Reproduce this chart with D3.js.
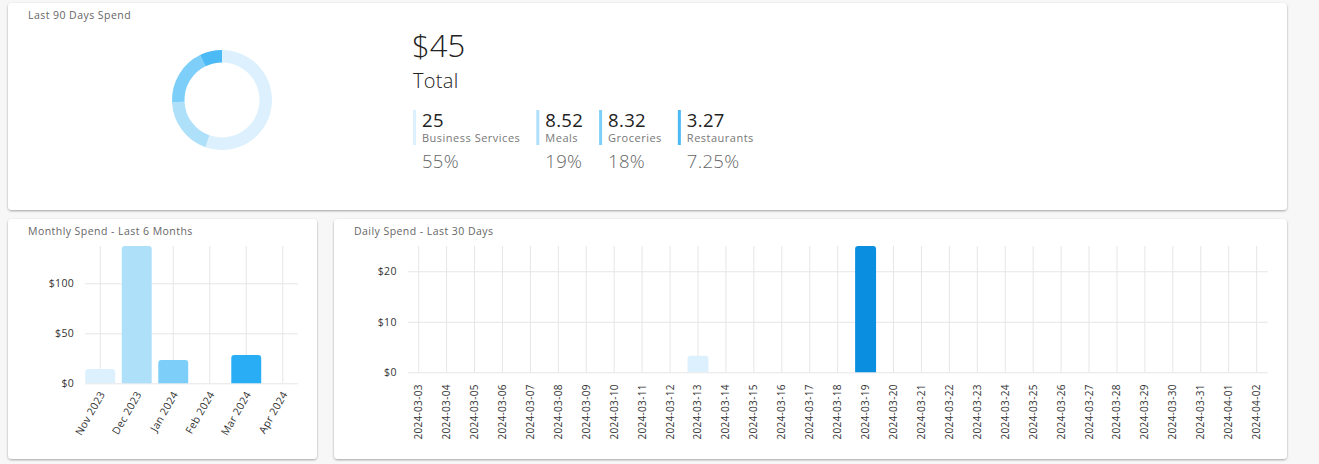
<!DOCTYPE html>
<html lang="en">
<head>
    <meta charset="UTF-8">
    <title>Spend Dashboard</title>
    <script src="https://d3js.org/d3.v7.min.js"></script>
    <style>
        body { margin: 0; background: #f7f7f7; }
        svg { display: block; font-family: "Open Sans", sans-serif; }
        .grid line { stroke: #e6e6e6; }
        .grid path { display: none; }
    </style>
</head>
<body>
    <script>
        // data
        const catLabels = ["Business Services", "Meals", "Groceries", "Restaurants"];
        const catValues = [25, 8.52, 8.32, 3.27];
        const catPercents = ["55%", "19%", "18%", "7.25%"];
        const catColors = ["#dcf1fd", "#aee0fa", "#7dcff9", "#4bbaf5"];
        const totalLabel = "$45";

        const months = ["Nov 2023", "Dec 2023", "Jan 2024", "Feb 2024", "Mar 2024", "Apr 2024"];
        const monthValues = [14.3, 137.3, 23.3, 0, 28.27, 0];
        const monthTicks = [0, 50, 100];
        const monthColors = ["#dcf1fd", "#aee0fa", "#7dcff9", "#4bbaf5", "#29aef5", "#03a0ef"];

        const days = ["2024-03-03", "2024-03-04", "2024-03-05", "2024-03-06", "2024-03-07", "2024-03-08",
            "2024-03-09", "2024-03-10", "2024-03-11", "2024-03-12", "2024-03-13", "2024-03-14",
            "2024-03-15", "2024-03-16", "2024-03-17", "2024-03-18", "2024-03-19", "2024-03-20",
            "2024-03-21", "2024-03-22", "2024-03-23", "2024-03-24", "2024-03-25", "2024-03-26",
            "2024-03-27", "2024-03-28", "2024-03-29", "2024-03-30", "2024-03-31", "2024-04-01",
            "2024-04-02"];
        const dayValues = [0, 0, 0, 0, 0, 0, 0, 0, 0, 0, 3.27, 0, 0, 0, 0, 0, 25, 0,
            0, 0, 0, 0, 0, 0, 0, 0, 0, 0, 0, 0, 0];
        const dayTicks = [0, 10, 20];
        const dayColors = ["#dcf1fd", "#aee0fa", "#7dcff9", "#4bbaf5", "#29aef5", "#03a0ef",
            "#0a8fe0", "#0288d1", "#0277bd", "#01579b"];

        const svg = d3.select("body").append("svg")
            .attr("width", 1319)
            .attr("height", 464);

        // card shadow
        const f = svg.append("defs").append("filter").attr("id", "shadow")
            .attr("x", "-5%").attr("y", "-5%").attr("width", "110%").attr("height", "115%");
        f.append("feDropShadow").attr("dx", 0).attr("dy", 1).attr("stdDeviation", 0.8)
            .attr("flood-color", "#000").attr("flood-opacity", 0.35);

        function card(x, y, w, h, title) {
            svg.append("rect").attr("x", x).attr("y", y).attr("width", w).attr("height", h)
                .attr("rx", 4).attr("fill", "#fff").attr("filter", "url(#shadow)");
            svg.append("text").attr("x", x + 20).attr("y", y + 16)
                .attr("font-size", 10.5).attr("letter-spacing", 0.45)
                .attr("fill", "#666").text(title);
        }

        card(8, 3, 1279, 207, "Last 90 Days Spend");
        card(8, 219, 309, 240, "Monthly Spend - Last 6 Months");
        card(334, 219, 953, 240, "Daily Spend - Last 30 Days");

        // donut
        const pie = d3.pie().sort(null)(catValues);
        const arc = d3.arc().innerRadius(37.5).outerRadius(50);
        svg.append("g").attr("transform", "translate(222,100)")
            .selectAll("path").data(pie).join("path")
            .attr("d", arc)
            .attr("fill", (d, i) => catColors[i]);

        // totals
        svg.append("text").attr("x", 412).attr("y", 57).attr("font-size", 31)
            .attr("font-weight", 300).attr("fill", "#222").text(totalLabel);
        svg.append("text").attr("x", 413).attr("y", 88).attr("font-size", 20)
            .attr("font-weight", 300).attr("letter-spacing", 0.3).attr("fill", "#222").text("Total");

        // legend items laid out by their text widths
        let lx = 413;
        catLabels.forEach((lab, i) => {
            const g = svg.append("g").attr("transform", `translate(${lx},0)`);
            g.append("rect").attr("x", 0).attr("y", 110).attr("width", 3).attr("height", 35)
                .attr("fill", catColors[i]);
            const t1 = g.append("text").attr("x", 9).attr("y", 127).attr("font-size", 18.5)
                .attr("letter-spacing", 0.3).attr("fill", "#222").text(catValues[i]);
            const t2 = g.append("text").attr("x", 9).attr("y", 142).attr("font-size", 11)
                .attr("letter-spacing", 0.5).attr("fill", "#777").text(lab);
            const t3 = g.append("text").attr("x", 9).attr("y", 168).attr("font-size", 18.5)
                .attr("font-weight", 300).attr("letter-spacing", 0.3).attr("fill", "#666").text(catPercents[i]);
            const w = Math.max(t1.node().getComputedTextLength(),
                t2.node().getComputedTextLength(), t3.node().getComputedTextLength());
            lx += 9 + w + 16;
        });

        function rounded(x, y, w, h, r) {
            r = Math.min(r, h, w / 2);
            return `M${x},${y + h}V${y + r}Q${x},${y} ${x + r},${y}H${x + w - r}Q${x + w},${y} ${x + w},${y + r}V${y + h}Z`;
        }

        function styleTicks(g, size) {
            g.attr("font-family", null).attr("font-size", null);
            g.selectAll("text").attr("font-size", size).attr("letter-spacing", 0.3).attr("fill", "#333");
        }

        // monthly bar chart
        const mx = d3.scaleBand().domain(months).range([82, 301])
            .paddingInner(0.18).paddingOuter(0.09);
        const my = d3.scaleLinear().domain([0, d3.max(monthValues)]).range([383.3, 246]);

        svg.append("g").attr("class", "grid")
            .attr("transform", "translate(0,383.3)")
            .call(d3.axisBottom(mx).tickSizeInner(-(383.3 - 246)).tickSizeOuter(0))
            .call(g => styleTicks(g, 10.5))
            .call(g => g.selectAll("text")
                .attr("transform", "translate(2,9) rotate(-60)")
                .attr("x", 0).attr("y", 0).attr("dy", "0.35em")
                .attr("text-anchor", "end"));

        svg.append("g").attr("class", "grid")
            .attr("transform", "translate(85,0)")
            .call(d3.axisLeft(my).tickValues(monthTicks).tickFormat(d => "$" + d)
                .tickSizeInner(-213).tickSizeOuter(0).tickPadding(11))
            .call(g => styleTicks(g, 10.5));

        svg.append("g").selectAll("path").data(monthValues).join("path")
            .filter(d => d > 0)
            .attr("d", d => {
                const idx = monthValues.indexOf(d);
                return rounded(mx(months[idx]), my(d), mx.bandwidth(), my(0) - my(d), 3);
            })
            .attr("fill", d => monthColors[monthValues.indexOf(d)]);

        // daily bar chart
        const dx = d3.scaleBand().domain(days).range([404.7, 1270.6])
            .paddingInner(0.25).paddingOuter(0.125);
        const dy = d3.scaleLinear().domain([0, d3.max(dayValues)]).range([372.3, 246]);

        svg.append("g").attr("class", "grid")
            .attr("transform", "translate(0,372.3)")
            .call(d3.axisBottom(dx).tickSizeInner(-(372.3 - 246)).tickSizeOuter(0))
            .call(g => styleTicks(g, 10))
            .call(g => g.selectAll("text")
                .attr("transform", "rotate(-90)")
                .attr("x", -12).attr("y", 0).attr("dy", "0.35em")
                .attr("text-anchor", "end"));

        svg.append("g").attr("class", "grid")
            .attr("transform", "translate(407.7,0)")
            .call(d3.axisLeft(dy).tickValues(dayTicks).tickFormat(d => "$" + d)
                .tickSizeInner(-860).tickSizeOuter(0).tickPadding(11))
            .call(g => styleTicks(g, 10.5));

        const dayData = days.map((d, i) => ({day: d, value: dayValues[i], color: dayColors[i % dayColors.length]}));
        svg.append("g").selectAll("path").data(dayData.filter(d => d.value > 0)).join("path")
            .attr("d", d => rounded(dx(d.day), dy(d.value), dx.bandwidth(), dy(0) - dy(d.value), 3))
            .attr("fill", d => d.color);
    </script>
</body>
</html>
